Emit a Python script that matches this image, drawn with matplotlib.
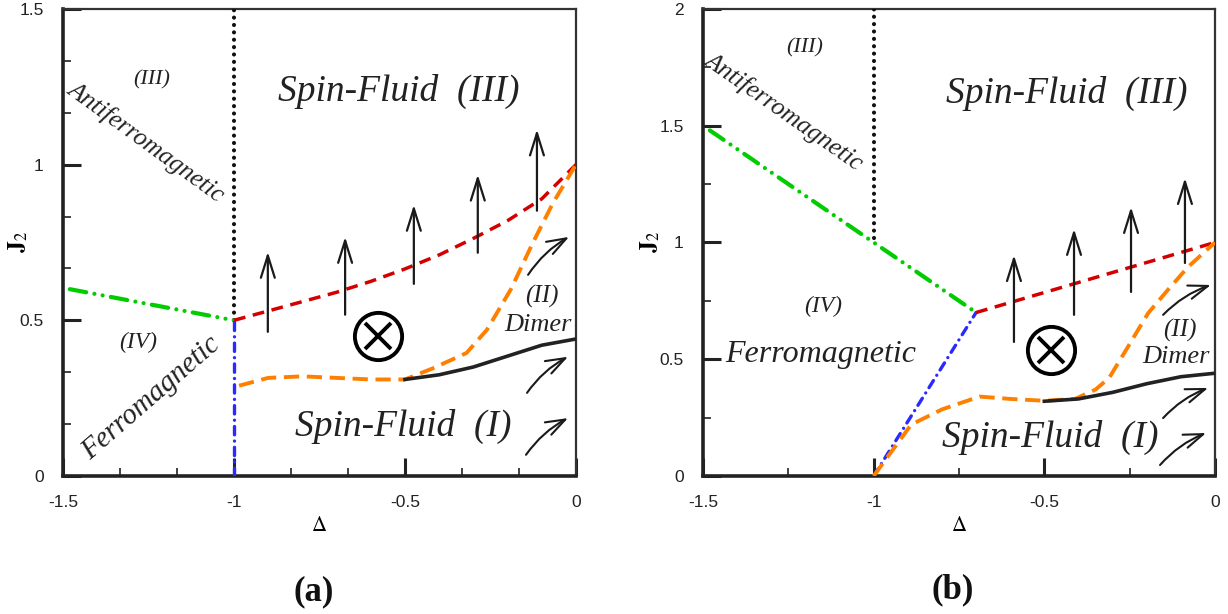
import matplotlib.pyplot as plt
from matplotlib.ticker import AutoMinorLocator

plt.rcParams['lines.scale_dashes'] = False
plt.rcParams['mathtext.fontset'] = 'stix'
plt.rcParams['axes.unicode_minus'] = False

SERIF = 'Liberation Serif'
SANS = 'Liberation Sans'

RED = '#d40000'
ORANGE = '#ff8000'
GREEN = '#00cc00'
BLUE = '#2a2aff'

# ---------------- panel (a) data ----------------
a_dot_x = [-1.0, -1.0]
a_dot_y = [0.5, 1.5]
a_green_x = [-1.48, -1.0]
a_green_y = [0.6, 0.5]
a_blue_x = [-1.0, -1.0]
a_blue_y = [0.0, 0.5]
a_red_x = [-1.0, -0.9, -0.8, -0.7, -0.6, -0.5, -0.4, -0.3, -0.2, -0.1, 0.0]
a_red_y = [0.5, 0.53, 0.56, 0.59, 0.625, 0.665, 0.71, 0.763, 0.82, 0.89, 1.0]
a_orange_x = [-0.985, -0.9, -0.8, -0.7, -0.6, -0.5, -0.42, -0.32, -0.26, -0.19, -0.126, -0.067, 0.0]
a_orange_y = [0.29, 0.315, 0.32, 0.315, 0.31, 0.31, 0.345, 0.395, 0.47, 0.6, 0.749, 0.877, 1.0]
a_black_x = [-0.5, -0.4, -0.3, -0.2, -0.1, 0.0]
a_black_y = [0.31, 0.325, 0.35, 0.385, 0.42, 0.44]
a_up_x = [-0.901, -0.675, -0.474, -0.287, -0.114]
a_up_y0 = [0.463, 0.518, 0.617, 0.717, 0.852]
a_up_y1 = [0.72, 0.768, 0.871, 0.968, 1.113]
a_curl_x0 = [-0.140, -0.143, -0.146]
a_curl_y0 = [0.646, 0.267, 0.068]
a_curl_x1 = [-0.020, -0.023, -0.023]
a_curl_y1 = [0.768, 0.383, 0.186]
a_otimes = (-0.58, 0.448)

# ---------------- panel (b) data ----------------
b_dot_x = [-1.0, -1.0]
b_dot_y = [1.02, 2.0]
b_green_x = [-1.48, -0.7]
b_green_y = [1.48, 0.7]
b_blue_x = [-1.0, -0.7]
b_blue_y = [0.0, 0.7]
b_red_x = [-0.7, 0.0]
b_red_y = [0.7, 1.0]
b_orange_x = [-1.0, -0.89, -0.8, -0.69, -0.6, -0.5, -0.41, -0.35, -0.31, -0.255, -0.196, -0.138, -0.079, 0.0]
b_orange_y = [0.0, 0.22, 0.285, 0.34, 0.33, 0.322, 0.33, 0.37, 0.42, 0.553, 0.697, 0.797, 0.895, 1.0]
b_black_x = [-0.5, -0.4, -0.3, -0.2, -0.1, 0.0]
b_black_y = [0.32, 0.33, 0.358, 0.395, 0.425, 0.44]
b_up_x = [-0.589, -0.413, -0.246, -0.088]
b_up_y0 = [0.574, 0.69, 0.788, 0.912]
b_up_y1 = [0.946, 1.058, 1.152, 1.276]
b_curl_x0 = [-0.152, -0.152, -0.161]
b_curl_y0 = [0.69, 0.248, 0.047]
b_curl_x1 = [-0.012, -0.02, -0.026]
b_curl_y1 = [0.818, 0.377, 0.184]
b_otimes = (-0.481, 0.54)

x_ticks = [-1.5, -1.0, -0.5, 0.0]
x_ticklabels = ['-1.5', '-1', '-0.5', '0']
a_y_ticks = [0, 0.5, 1.0, 1.5]
a_y_ticklabels = ['0', '0.5', '1', '1.5']
b_y_ticks = [0, 0.5, 1.0, 1.5, 2.0]
b_y_ticklabels = ['0', '0.5', '1', '1.5', '2']

fig = plt.figure(figsize=(12.28, 6.14), dpi=100)
ax_a = fig.add_axes([0.0513, 0.2248, 0.4177, 0.7606])
ax_b = fig.add_axes([0.5725, 0.2248, 0.4169, 0.7606])


def style_axes(ax, yticks, yticklabels, ymax, nminor_x, nminor_y):
    ax.set_xlim(-1.5, 0)
    ax.set_ylim(0, ymax)
    ax.set_xticks(x_ticks)
    ax.set_xticklabels(x_ticklabels)
    ax.set_yticks(yticks)
    ax.set_yticklabels(yticklabels)
    ax.xaxis.set_minor_locator(AutoMinorLocator(nminor_x))
    ax.yaxis.set_minor_locator(AutoMinorLocator(nminor_y))
    ax.tick_params(which='both', direction='in', top=False, right=False,
                   colors='#222222')
    ax.tick_params(which='major', length=13, width=2.2, pad=14, labelsize=12.5)
    ax.tick_params(which='minor', length=6, width=1.2)
    for lab in ax.get_xticklabels() + ax.get_yticklabels():
        lab.set_fontfamily(SANS)
    for s in ['left', 'bottom']:
        ax.spines[s].set_linewidth(2.6)
        ax.spines[s].set_color('#222222')
    for s in ['top', 'right']:
        ax.spines[s].set_linewidth(1.6)
        ax.spines[s].set_color('#333333')
    ax.set_xlabel(r'$\Delta$', fontsize=15, labelpad=3)
    ax.set_ylabel(r'$\mathbf{J}_{2}$', fontsize=17)


def draw_common(ax, d):
    ax.plot(d['dot_x'], d['dot_y'], color='#111111', lw=3.0,
            linestyle=(0, (0.01, 5.3)), dash_capstyle='round', zorder=3)
    ax.plot(d['green_x'], d['green_y'], color=GREEN, lw=3.0,
            linestyle=(0, (12, 6, 0.01, 6, 0.01, 6)), dash_capstyle='round', zorder=3)
    ax.plot(d['blue_x'], d['blue_y'], color=BLUE, lw=2.4,
            linestyle=(0, (6, 4.5, 0.01, 4.5)), dash_capstyle='round', zorder=3)
    ax.plot(d['red_x'], d['red_y'], color=RED, lw=2.5,
            linestyle=(0, (8.5, 5.5)), zorder=3)
    ax.plot(d['orange_x'], d['orange_y'], color=ORANGE, lw=2.8,
            linestyle=(0, (11, 5.5)), zorder=3)
    ax.plot(d['black_x'], d['black_y'], color='#222222', lw=2.6, zorder=4)
    for x, y0, y1 in zip(d['up_x'], d['up_y0'], d['up_y1']):
        ax.annotate('', xy=(x, y1), xytext=(x, y0),
                    arrowprops=dict(arrowstyle='->,head_length=1.6,head_width=0.5',
                                    mutation_scale=10, lw=1.6, color='#1a1a1a',
                                    shrinkA=0, shrinkB=0))
    for x0, y0, x1, y1 in zip(d['curl_x0'], d['curl_y0'], d['curl_x1'], d['curl_y1']):
        ax.annotate('', xy=(x1, y1), xytext=(x0, y0),
                    arrowprops=dict(arrowstyle='->,head_length=1.4,head_width=0.5',
                                    mutation_scale=10, lw=1.5, color='#1a1a1a',
                                    connectionstyle='arc3,rad=-0.12',
                                    shrinkA=0, shrinkB=0))
    ox, oy = d['otimes']
    ax.plot([ox], [oy], marker='o', markersize=34, mfc='none', mec='black',
            mew=2.8, zorder=5)
    ax.plot([ox], [oy], marker='x', markersize=19, mec='black', mew=2.8, zorder=5)


panel_a = dict(dot_x=a_dot_x, dot_y=a_dot_y, green_x=a_green_x, green_y=a_green_y,
               blue_x=a_blue_x, blue_y=a_blue_y, red_x=a_red_x, red_y=a_red_y,
               orange_x=a_orange_x, orange_y=a_orange_y, black_x=a_black_x,
               black_y=a_black_y, up_x=a_up_x, up_y0=a_up_y0, up_y1=a_up_y1,
               curl_x0=a_curl_x0, curl_y0=a_curl_y0, curl_x1=a_curl_x1,
               curl_y1=a_curl_y1, otimes=a_otimes)
panel_b = dict(dot_x=b_dot_x, dot_y=b_dot_y, green_x=b_green_x, green_y=b_green_y,
               blue_x=b_blue_x, blue_y=b_blue_y, red_x=b_red_x, red_y=b_red_y,
               orange_x=b_orange_x, orange_y=b_orange_y, black_x=b_black_x,
               black_y=b_black_y, up_x=b_up_x, up_y0=b_up_y0, up_y1=b_up_y1,
               curl_x0=b_curl_x0, curl_y0=b_curl_y0, curl_x1=b_curl_x1,
               curl_y1=b_curl_y1, otimes=b_otimes)

style_axes(ax_a, a_y_ticks, a_y_ticklabels, 1.5, 3, 3)
style_axes(ax_b, b_y_ticks, b_y_ticklabels, 2.0, 2, 2)
draw_common(ax_a, panel_a)
draw_common(ax_b, panel_b)

ax_a.yaxis.set_label_coords(-0.064, 0.5)
ax_b.yaxis.set_label_coords(-0.080, 0.5)

txt = dict(family=SERIF, style='italic', color='#222222', ha='center', va='center')

# panel (a) labels
ax_a.text(-0.518, 1.235, 'Spin-Fluid  (III)', fontsize=27, **txt)
ax_a.text(-0.506, 0.158, 'Spin-Fluid  (I)', fontsize=27, **txt)
ax_a.text(-1.24, 1.273, '(III)', fontsize=16, **txt)
ax_a.text(-1.257, 1.074, 'Antiferromagnetic', fontsize=18.5, rotation=-36, **txt)
ax_a.text(-1.28, 0.428, '(IV)', fontsize=17, **txt)
ax_a.text(-1.243, 0.251, 'Ferromagnetic', fontsize=21, rotation=41, **txt)
ax_a.text(-0.099, 0.576, '(II)', fontsize=18, **txt)
ax_a.text(-0.111, 0.486, 'Dimer', fontsize=19, **txt)

# panel (b) labels
ax_b.text(-0.433, 1.64, 'Spin-Fluid  (III)', fontsize=27, **txt)
ax_b.text(-0.483, 0.167, 'Spin-Fluid  (I)', fontsize=27, **txt)
ax_b.text(-1.201, 1.833, '(III)', fontsize=16, **txt)
ax_b.text(-1.263, 1.563, 'Antiferromagnetic', fontsize=18.5, rotation=-35, **txt)
ax_b.text(-1.148, 0.724, '(IV)', fontsize=17, **txt)
ax_b.text(-1.154, 0.522, 'Ferromagnetic', fontsize=23, **txt)
ax_b.text(-0.102, 0.625, '(II)', fontsize=18, **txt)
ax_b.text(-0.114, 0.51, 'Dimer', fontsize=19, **txt)

fig.text(314 / 1228, 1 - 592 / 614, '(a)', family=SERIF, weight='bold',
         fontsize=25, ha='center', va='center', color='#111111')
fig.text(953 / 1228, 1 - 590 / 614, '(b)', family=SERIF, weight='bold',
         fontsize=25, ha='center', va='center', color='#111111')

fig.savefig('out.png', dpi=100)
